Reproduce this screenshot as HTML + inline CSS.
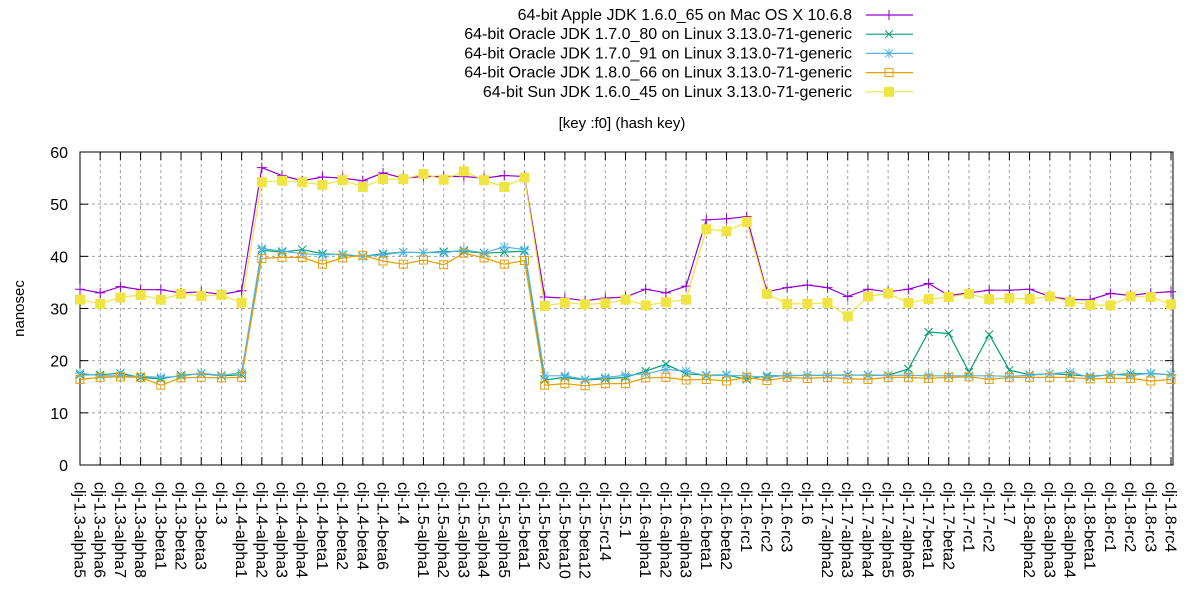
<!DOCTYPE html>
<html><head><meta charset="utf-8"><style>
html,body{margin:0;padding:0;background:#fff;}
svg{display:block;font-family:"Liberation Sans",sans-serif;}
</style></head><body>
<svg id="s" width="1200" height="600" xmlns="http://www.w3.org/2000/svg"></svg>
<script>
const s=document.getElementById('s');
const L=80,R=1173,T=152,B=465;
const cats=["clj-1.3-alpha5","clj-1.3-alpha6","clj-1.3-alpha7","clj-1.3-alpha8","clj-1.3-beta1","clj-1.3-beta2","clj-1.3-beta3","clj-1.3",
"clj-1.4-alpha1","clj-1.4-alpha2","clj-1.4-alpha3","clj-1.4-alpha4","clj-1.4-beta1","clj-1.4-beta2","clj-1.4-beta4","clj-1.4-beta6","clj-1.4",
"clj-1.5-alpha1","clj-1.5-alpha2","clj-1.5-alpha3","clj-1.5-alpha4","clj-1.5-alpha5","clj-1.5-beta1","clj-1.5-beta2","clj-1.5-beta10","clj-1.5-beta12","clj-1.5-rc14","clj-1.5.1",
"clj-1.6-alpha1","clj-1.6-alpha2","clj-1.6-alpha3","clj-1.6-beta1","clj-1.6-beta2","clj-1.6-rc1","clj-1.6-rc2","clj-1.6-rc3","clj-1.6",
"clj-1.7-alpha2","clj-1.7-alpha3","clj-1.7-alpha4","clj-1.7-alpha5","clj-1.7-alpha6","clj-1.7-beta1","clj-1.7-beta2","clj-1.7-rc1","clj-1.7-rc2","clj-1.7",
"clj-1.8-alpha2","clj-1.8-alpha3","clj-1.8-alpha4","clj-1.8-beta1","clj-1.8-rc1","clj-1.8-rc2","clj-1.8-rc3","clj-1.8-rc4"];
const dx=(1171-L)/54;
const X=i=>L+dx*i, Y=v=>B-(v/60)*(B-T);
let h='';
for(let v=0;v<=60;v+=10){const y=Y(v);
 if(v>0&&v<60)h+=`<line x1="${L}" y1="${y}" x2="${R}" y2="${y}" stroke="#a0a0a0" stroke-dasharray="3,3"/>`;
 h+=`<line x1="${L}" y1="${y}" x2="${L+8}" y2="${y}" stroke="#000"/><line x1="${R}" y1="${y}" x2="${R-8}" y2="${y}" stroke="#000"/>`;
 h+=`<text x="${L-12}" y="${y+6}" font-size="16" text-anchor="end" fill="#000">${v}</text>`;}
cats.forEach((c,i)=>{const x=X(i);
 if(i>0)h+=`<line x1="${x}" y1="${T}" x2="${x}" y2="${B}" stroke="#a0a0a0" stroke-dasharray="3,3"/>`;
 h+=`<line x1="${x}" y1="${B}" x2="${x}" y2="${B-8}" stroke="#000"/><line x1="${x}" y1="${T}" x2="${x}" y2="${T+8}" stroke="#000"/>`;
 h+=`<text transform="translate(${x-5.5},${B+17}) rotate(90)" font-size="16" text-anchor="start" fill="#000">${c}</text>`;});
h+=`<rect x="${L}" y="${T}" width="${R-L}" height="${B-T}" fill="none" stroke="#000"/>`;
h+=`<text transform="translate(24,${(T+B)/2}) rotate(-90)" font-size="15" text-anchor="middle">nanosec</text>`;
const data=[
["64-bit Apple JDK 1.6.0_65 on Mac OS X 10.6.8","#9400d3","plus",
[33.7,33,34.2,33.6,33.6,33,33.2,32.7, 33.4,57,55.5,54.5,55.2,55,54.5,56,55, 55.3,55.3,55.3,55,55.5,55.3,32.2,32,31.5,32,32.2, 33.7,33,34.3,47,47.2,47.6,33.2,34,34.5, 34,32.3,33.7,33.2,33.7,34.8,32.5,33,33.5,33.5, 33.7,32.3,31.7,31.7,32.9,32.5,33,33.2]],
["64-bit Oracle JDK 1.7.0_80 on Linux 3.13.0-71-generic","#009e73","x",
[17.3,17.3,17.6,16.8,16.5,17.2,17.5,17.1, 17.3,41.2,40.8,41.3,40.5,40.3,40,40.5,40.8, 40.7,40.9,41,40.6,40.8,41,16.3,16.8,16.3,16.5,16.8, 18,19.3,17.5,17.2,17.3,16.4,17.1,17.1,17.2, 17.2,17.3,17.2,17.2,18.4,25.5,25.2,17.8,25,18.2, 17.3,17.5,17.3,17,17.3,17.5,17.5,17.3]],
["64-bit Oracle JDK 1.7.0_91 on Linux 3.13.0-71-generic","#56b4e9","star",
[17.6,17.1,17.1,17.0,16.8,17.0,17.6,17.2, 17.7,41.5,41.0,40.5,40.3,40.4,40.0,40.3,40.8, 40.7,40.7,41.2,40.7,41.8,41.3,17.1,17.1,16.4,16.8,17.2, 17.5,18.3,18.0,17.1,17.2,17.1,16.8,17.2,17.2, 17.2,17.2,17.3,17.2,17.2,17.1,17.1,17.1,17.1,17.0, 17.2,17.5,17.8,16.8,17.4,17.1,17.6,17.3]],
["64-bit Oracle JDK 1.8.0_66 on Linux 3.13.0-71-generic","#e69f00","osq",
[16.4,16.8,16.9,16.8,15.3,16.7,16.8,16.7, 16.8,39.6,39.8,39.8,38.5,39.7,40.2,39.1,38.5, 39.3,38.4,40.6,39.7,38.5,39.2,15.3,15.6,15.2,15.6,15.6, 16.7,16.8,16.3,16.4,16.1,16.8,16.2,16.8,16.6, 16.8,16.5,16.4,16.8,16.8,16.6,16.8,16.9,16.4,16.8, 16.8,16.8,16.8,16.5,16.6,16.6,16.1,16.4]],
["64-bit Sun JDK 1.6.0_45 on Linux 3.13.0-71-generic","#f0e442","fsq",
[31.7,30.9,32.1,32.6,31.7,32.8,32.4,32.6, 31.1,54.2,54.5,54.2,53.7,54.6,53.3,54.8,54.8, 55.8,54.7,56.3,54.6,53.3,55.1,30.5,31.1,30.8,31,31.7, 30.6,31.2,31.7,45.2,44.8,46.6,32.8,30.9,30.9, 31.1,28.5,32.3,32.9,31.1,31.8,32.2,32.8,31.8,32.0, 31.8,32.3,31.3,30.7,30.6,32.3,32.2,30.8]]];
function mk(t,x,y,c){
 if(t=="plus")return `<path d="M${x-5} ${y}h10M${x} ${y-5}v10" stroke="${c}" fill="none"/>`;
 if(t=="x")return `<path d="M${x-4} ${y-4}l8 8M${x-4} ${y+4}l8 -8" stroke="${c}" fill="none"/>`;
 if(t=="star")return `<path d="M${x-5} ${y}h10M${x} ${y-5}v10M${x-4} ${y-4}l8 8M${x-4} ${y+4}l8 -8" stroke="${c}" fill="none"/>`;
 if(t=="osq")return `<rect x="${x-4}" y="${y-4}" width="8" height="8" stroke="${c}" fill="none"/>`;
 return `<rect x="${x-5}" y="${y-5}" width="10" height="10" fill="${c}"/>`;}
data.forEach((d,k)=>{
 h+=`<polyline fill="none" stroke="${d[1]}" stroke-width="1.2" points="${d[3].map((v,i)=>X(i).toFixed(1)+','+Y(v).toFixed(1)).join(' ')}"/>`;
 d[3].forEach((v,i)=>h+=mk(d[2],X(i),Y(v),d[1]));
 const ly=15+k*19.2;
 h+=`<text x="852" y="${ly+5}" font-size="16" text-anchor="end">${d[0]}</text>`;
 h+=`<line x1="866" y1="${ly}" x2="913" y2="${ly}" stroke="${d[1]}" stroke-width="1.2"/>`+mk(d[2],889,ly,d[1]);
});
h+=`<text x="622" y="128" font-size="15" text-anchor="middle">[key :f0] (hash key)</text>`;
s.innerHTML=h;
</script>
</body></html>
